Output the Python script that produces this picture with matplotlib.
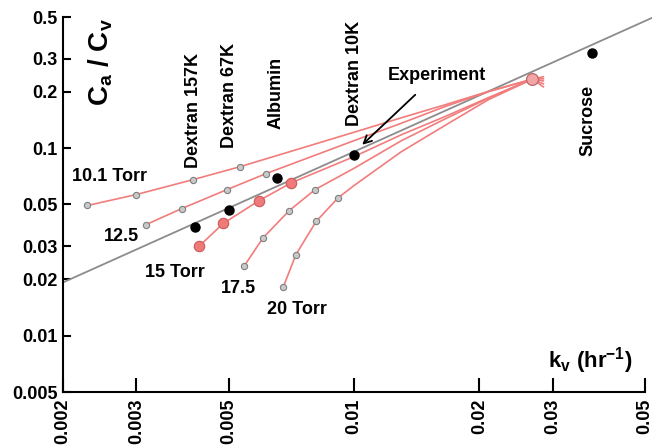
import numpy as np
import matplotlib
matplotlib.use("Agg")
import matplotlib.pyplot as plt
from matplotlib.ticker import NullLocator

plt.rcParams["font.family"] = ["Liberation Sans", "DejaVu Sans"]
plt.rcParams["font.weight"] = "bold"
plt.rcParams["mathtext.fontset"] = "custom"
plt.rcParams["mathtext.rm"] = "Liberation Sans:bold"
plt.rcParams["mathtext.bf"] = "Liberation Sans:bold"
plt.rcParams["mathtext.default"] = "bf"

# ----------------------------
# data
# ----------------------------
# model curves for each pressure, markers on the first points
kv_101 = [0.00229, 0.00300, 0.00411, 0.00533, 0.0100, 0.0130, 0.0165, 0.0210, 0.0268, 0.0285]
ca_101 = [0.0494, 0.0565, 0.0679, 0.0796, 0.1214, 0.1451, 0.1698, 0.2003, 0.233, 0.240]
kv_125 = [0.00317, 0.00386, 0.00496, 0.00615, 0.0100, 0.0130, 0.0165, 0.0210, 0.0268, 0.0285]
ca_125 = [0.0391, 0.0476, 0.0601, 0.0731, 0.1095, 0.1357, 0.1661, 0.1996, 0.233, 0.234]
kv_150 = [0.00425, 0.00485, 0.00592, 0.00706, 0.0100, 0.0130, 0.0165, 0.0210, 0.0268, 0.0285]
ca_150 = [0.0300, 0.0396, 0.0525, 0.0652, 0.0900, 0.1178, 0.1469, 0.1854, 0.233, 0.228]
kv_175 = [0.00545, 0.00604, 0.00699, 0.00807, 0.0100, 0.0130, 0.0165, 0.0210, 0.0268, 0.0285]
ca_175 = [0.0235, 0.0331, 0.0464, 0.0601, 0.0780, 0.1095, 0.1425, 0.1843, 0.233, 0.220]
kv_200 = [0.00676, 0.00725, 0.00811, 0.00916, 0.0100, 0.0130, 0.0165, 0.0210, 0.0268, 0.0285]
ca_200 = [0.0181, 0.0270, 0.0406, 0.0543, 0.0631, 0.0957, 0.1316, 0.1809, 0.233, 0.212]
n_marked = 4

# common point where the curves meet
kv_meet = 0.0268
ca_meet = 0.233

# experimental solutes
solutes = ["Dextran 157K", "Dextran 67K", "Albumin", "Dextran 10K", "Sucrose"]
kv_exp = [0.00415, 0.00501, 0.00653, 0.00998, 0.0373]
ca_exp = [0.0377, 0.0470, 0.0693, 0.0923, 0.320]

# fitted line
kv_fit = [0.002, 0.052]
ca_fit = [0.0192, 0.495]

xticks = [0.002, 0.003, 0.005, 0.01, 0.02, 0.03, 0.05]
xlabels = ["0.002", "0.003", "0.005", "0.01", "0.02", "0.03", "0.05"]
yticks = [0.005, 0.01, 0.02, 0.03, 0.05, 0.1, 0.2, 0.3, 0.5]
ylabels = ["0.005", "0.01", "0.02", "0.03", "0.05", "0.1", "0.2", "0.3", "0.5"]

# ----------------------------
# plot
# ----------------------------
fig = plt.figure(figsize=(6.52, 4.48), dpi=100)
ax = fig.add_axes([63/652, 1 - 392/448, 582/652, 375/448])
ax.set_xscale("log")
ax.set_yscale("log")
ax.set_xlim(0.002, 0.05)
ax.set_ylim(0.005, 0.5)

red = "#f27c7c"
gray_face = "#c9c9c9"
gray_edge = "#7f7f7f"

ax.plot(kv_fit, ca_fit, color="#8c8c8c", lw=1.3, clip_on=False, zorder=2)

curves = [(kv_101, ca_101), (kv_125, ca_125), (kv_150, ca_150),
          (kv_175, ca_175), (kv_200, ca_200)]
for i, (kv, ca) in enumerate(curves):
    ax.plot(kv, ca, color=red, lw=1.2, zorder=3)
    if i == 2:
        ax.plot(kv[:n_marked], ca[:n_marked], "o", ms=7.5, mfc="#f07a7a",
                mec="#c85a5a", mew=0.8, zorder=5)
    else:
        ax.plot(kv[:n_marked], ca[:n_marked], "o", ms=4.5, mfc=gray_face,
                mec=gray_edge, mew=0.8, zorder=5)

ax.plot([kv_meet], [ca_meet], "o", ms=8.5, mfc="#f3a4a4", mec="#b86a6a",
        mew=0.9, zorder=6)
ax.plot(kv_exp, ca_exp, "o", ms=6.5, color="black", zorder=7)

# axes styling
for s in ["top", "right"]:
    ax.spines[s].set_visible(False)
for s in ["left", "bottom"]:
    ax.spines[s].set_linewidth(1.5)

ax.set_xticks(xticks)
ax.set_xticklabels(xlabels, rotation=90, fontsize=13, fontweight="bold")
ax.set_yticks(yticks)
ax.set_yticklabels(ylabels, fontsize=13, fontweight="bold")
ax.xaxis.set_minor_locator(NullLocator())
ax.yaxis.set_minor_locator(NullLocator())
ax.tick_params(axis="x", direction="in", length=10, width=1.5, pad=5)
ax.tick_params(axis="y", direction="in", length=6, width=1.5, pad=4)

# axis titles placed inside the plot
ax.text(0.00247, 0.494, r"C$_{a}$ / C$_{v}$", rotation=90, ha="center",
        va="top", fontsize=20, fontweight="bold")
ax.text(0.0370, 0.0074, r"k$_{v}$ (hr$^{-1}$)", ha="center", va="center",
        fontsize=16, fontweight="bold")

# solute names
name_pos = [(0.00411, 0.0787), (0.00503, 0.1005), (0.00648, 0.1267),
            (0.01004, 0.1315), (0.0365, 0.0911)]
for name, (xp, yp) in zip(solutes, name_pos):
    ax.text(xp, yp, name, rotation=90, ha="center", va="bottom",
            fontsize=13, fontweight="bold")

# pressure labels
ax.text(0.00258, 0.0704, "10.1 Torr", ha="center", va="center", fontsize=13, fontweight="bold")
ax.text(0.00277, 0.0338, "12.5", ha="center", va="center", fontsize=13, fontweight="bold")
ax.text(0.00372, 0.0217, "15 Torr", ha="center", va="center", fontsize=13, fontweight="bold")
ax.text(0.00527, 0.0179, "17.5", ha="center", va="center", fontsize=13, fontweight="bold")
ax.text(0.00730, 0.0138, "20 Torr", ha="center", va="center", fontsize=13, fontweight="bold")

ax.text(0.01585, 0.2428, "Experiment", ha="center", va="center", fontsize=13, fontweight="bold")
ax.annotate("", xy=(0.01035, 0.1017), xytext=(0.01419, 0.197),
            arrowprops=dict(arrowstyle="->", color="black", lw=1.3, mutation_scale=14))

plt.savefig("out.png", dpi=100)
